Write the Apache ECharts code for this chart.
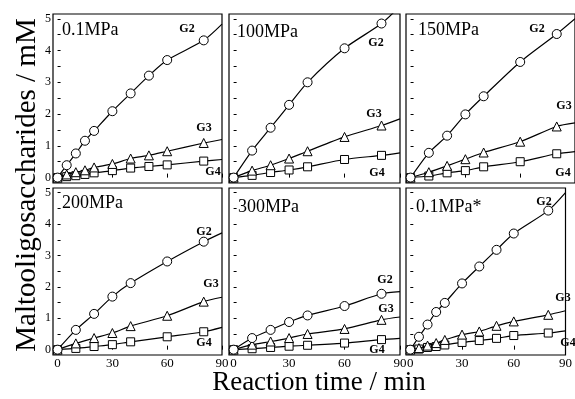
<!DOCTYPE html>
<html>
<head>
<meta charset="utf-8">
<script src="https://cdn.jsdelivr.net/npm/echarts@6/dist/echarts.min.js"></script>
<style>html,body{margin:0;padding:0;background:#fff}#c{width:575px;height:399px}</style>
</head>
<body>
<div id="c"></div>
<script>
// ---- data (min, mM) ----
const timesA = [0, 5, 10, 15, 20, 30, 40, 50, 60, 80];   // 0.1MPa and 0.1MPa*
const timesB = [0, 10, 20, 30, 40, 60, 80];              // 100-300MPa
const endTime = 90;
const panelTitles = ["0.1MPa", "100MPa", "150MPa", "200MPa", "300MPa", "0.1MPa*"];
const seriesNames = ["G2", "G3", "G4"];
const xTicks = [0, 30, 60, 90];
const yTickLabels = [0, 1, 2, 3, 4, 5];
const yTicks = [0, 0.5, 1, 1.5, 2, 2.5, 3, 3.5, 4, 4.5, 5];

const p01_G2 = [0, 0.39, 0.76, 1.16, 1.47, 2.09, 2.65, 3.21, 3.70, 4.32];
const p01_G3 = [0, 0.10, 0.17, 0.23, 0.32, 0.43, 0.60, 0.70, 0.83, 1.09];
const p01_G4 = [0, 0.03, 0.06, 0.10, 0.15, 0.22, 0.30, 0.35, 0.40, 0.52];
const p01_end = [4.83, 1.20, 0.57];

const p100_G2 = [0, 0.85, 1.57, 2.29, 3.00, 4.07, 4.85];
const p100_G3 = [0, 0.22, 0.39, 0.60, 0.83, 1.28, 1.64];
const p100_G4 = [0, 0.07, 0.16, 0.24, 0.34, 0.57, 0.70];
const p100_end = [5.40, 1.85, 0.78];

const p150_G2 = [0, 0.78, 1.32, 1.99, 2.56, 3.64, 4.52];
const p150_G3 = [0, 0.17, 0.37, 0.58, 0.79, 1.13, 1.61];
const p150_G4 = [0, 0.05, 0.15, 0.22, 0.34, 0.50, 0.75];
const p150_end = [5.00, 1.72, 0.82];

const p200_G2 = [0, 0.63, 1.14, 1.69, 2.12, 2.81, 3.44];
const p200_G3 = [0, 0.20, 0.37, 0.53, 0.75, 1.08, 1.53];
const p200_G4 = [0, 0.04, 0.10, 0.16, 0.25, 0.41, 0.57];
const p200_end = [3.72, 1.67, 0.71];

const p300_G2 = [0, 0.37, 0.63, 0.88, 1.09, 1.39, 1.78];
const p300_G3 = [0, 0.16, 0.26, 0.37, 0.50, 0.66, 0.95];
const p300_G4 = [0, 0.03, 0.07, 0.11, 0.14, 0.21, 0.32];
const p300_end = [1.85, 1.04, 0.36];

const p01s_G2 = [0, 0.41, 0.80, 1.20, 1.49, 2.11, 2.65, 3.18, 3.70, 4.43];
const p01s_G3 = [0, 0.05, 0.13, 0.21, 0.31, 0.48, 0.58, 0.76, 0.90, 1.11];
const p01s_G4 = [0, 0.02, 0.07, 0.10, 0.15, 0.23, 0.29, 0.36, 0.45, 0.53];
const p01s_end = [5.00, 1.24, 0.60];

const panels = [
  {times: timesA, vals: [p01_G2, p01_G3, p01_G4], end: p01_end},
  {times: timesB, vals: [p100_G2, p100_G3, p100_G4], end: p100_end},
  {times: timesB, vals: [p150_G2, p150_G3, p150_G4], end: p150_end},
  {times: timesB, vals: [p200_G2, p200_G3, p200_G4], end: p200_end},
  {times: timesB, vals: [p300_G2, p300_G3, p300_G4], end: p300_end},
  {times: timesA, vals: [p01s_G2, p01s_G3, p01s_G4], end: p01s_end}
];

// ---- layout ----
const FONT = "'Liberation Serif','Times New Roman',serif";
const grids = [
  {left: 53, top: 14, width: 169, height: 169},
  {left: 229, top: 14, width: 171, height: 169},
  {left: 406, top: 14, width: 171, height: 169},
  {left: 53, top: 188, width: 169, height: 167},
  {left: 229, top: 188, width: 171, height: 167},
  {left: 406, top: 188, width: 171, height: 167}
];
const symbols = ['circle', 'triangle', 'rect'];
const symSizes = [9, 9, 8];

const xAxes = [], yAxes = [], series = [];
grids.forEach((g, i) => {
  g.show = true; g.borderColor = '#000'; g.borderWidth = 1.2; g.backgroundColor = 'transparent';
  const bottomRow = i >= 3, leftCol = (i % 3) === 0;
  xAxes.push({
    type: 'value', gridIndex: i, min: -2.5, max: 90,
    axisLine: {show: false}, splitLine: {show: false},
    axisTick: {show: true, inside: true, length: 4, customValues: xTicks, lineStyle: {color: '#000'}},
    axisLabel: {show: bottomRow, customValues: xTicks, margin: 2, fontSize: 13, color: '#000', fontFamily: FONT}
  });
  yAxes.push({
    type: 'value', gridIndex: i, min: -0.17, max: 5.15,
    axisLine: {show: false}, splitLine: {show: false},
    axisTick: {show: true, inside: true, length: 3, customValues: yTicks, lineStyle: {color: '#000'}},
    axisLabel: {show: leftCol, customValues: yTickLabels, margin: 2, fontSize: 12, color: '#000', fontFamily: FONT}
  });
  const p = panels[i];
  p.vals.forEach((arr, k) => {
    const data = arr.map((v, j) => [p.times[j], v]);
    data.push({value: [endTime, p.end[k]], symbol: 'none'});
    series.push({
      type: 'line', xAxisIndex: i, yAxisIndex: i, name: seriesNames[k],
      data: data, smooth: 0.25, clip: true,
      symbol: symbols[k], symbolSize: symSizes[k], showSymbol: true,
      lineStyle: {color: '#000', width: 1.2},
      itemStyle: {color: '#fff', borderColor: '#000', borderWidth: 1},
      z: 3 - k, animation: false
    });
  });
});

// ---- annotation text ----
const titlePos = [[62, 30], [237, 32], [418, 30], [62, 203], [238, 207], [416, 207]];
const gLabelPos = [
  [[187, 29], [204, 128], [213, 172]],
  [[376, 43], [374, 114], [377, 173]],
  [[537, 29], [564, 106], [563, 173]],
  [[204, 232], [211, 284], [204, 343]],
  [[385, 280], [386, 309], [377, 350]],
  [[544, 202], [563, 298], [568, 343]]
];
const graphics = [];
panelTitles.forEach((t, i) => {
  graphics.push({type: 'text', x: titlePos[i][0], y: titlePos[i][1], z: 10,
    style: {text: t, font: '18px ' + FONT, fill: '#000', textAlign: 'left', textVerticalAlign: 'middle'}});
  seriesNames.forEach((n, k) => {
    graphics.push({type: 'text', x: gLabelPos[i][k][0], y: gLabelPos[i][k][1], z: 10,
      style: {text: n, font: 'bold 12px ' + FONT, fill: '#000', textAlign: 'center', textVerticalAlign: 'middle'}});
  });
});
graphics.push({type: 'text', x: 27, y: 185, rotation: Math.PI / 2, z: 10,
  style: {text: 'Maltooligosaccharides / mM', font: '29px ' + FONT, fill: '#000', textAlign: 'center', textVerticalAlign: 'middle'}});
graphics.push({type: 'text', x: 319, y: 383, z: 10,
  style: {text: 'Reaction time / min', font: '27px ' + FONT, fill: '#000', textAlign: 'center', textVerticalAlign: 'middle'}});

const chart = echarts.init(document.getElementById('c'), null, {renderer: 'canvas'});
chart.setOption({
  backgroundColor: '#fff',
  animation: false,
  grid: grids,
  xAxis: xAxes,
  yAxis: yAxes,
  series: series,
  graphic: graphics
});
</script>
</body>
</html>
